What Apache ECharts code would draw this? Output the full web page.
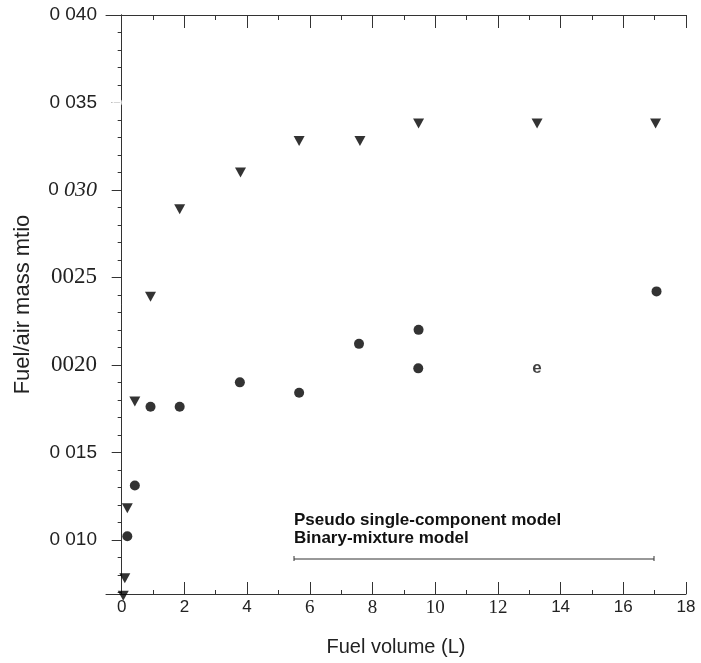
<!DOCTYPE html>
<html><head><meta charset="utf-8">
<script src="https://cdn.jsdelivr.net/npm/echarts@6/dist/echarts.min.js"></script>
<style>html,body{margin:0;padding:0;background:#fff}#c{width:701px;height:663px}</style>
</head><body><div id="c"></div>
<script>
// ---- data ----
const seriesNames = ['Pseudo single-component model', 'Binary-mixture model'];
const volTri   = [0.05, 0.10, 0.18, 0.42, 0.92, 1.85, 3.79, 5.66, 7.60, 9.47, 13.25, 17.03];
const ratioTri = [0.0068, 0.0078, 0.0118, 0.0179, 0.0239, 0.0289, 0.0310, 0.0328, 0.0328, 0.0338, 0.0338, 0.0338];
const volCirc   = [0.18, 0.42, 0.92, 1.85, 3.77, 5.66, 7.57, 9.47, 9.46, 17.06];
const ratioCirc = [0.0102, 0.0131, 0.0176, 0.0176, 0.0190, 0.0184, 0.0212, 0.0220, 0.0198, 0.0242];
const volE = [13.25];
const ratioE = [0.0198];
const labelE = ['e'];
const volFaint   = [-0.15, 0.20, 0.50, 0.87, 1.85, 13.25, 17.03];
const ratioFaint = [0.035, 0.035, 0.035, 0.035, 0.035, 0.035, 0.035];
const xTickValues = [0, 2, 4, 6, 8, 10, 12, 14, 16, 18];
const xTickLabels = ['0', '2', '4', '6', '8', '10', '12', '14', '16', '18'];
const xMinorValues = [1, 3, 5, 7, 9, 11, 13, 15, 17];
const yTickValues = [0.010, 0.015, 0.020, 0.025, 0.030, 0.035, 0.040];
const yTickLabels = ['0 010', '0 015', '0020', '0025', '0 030', '0 035', '0 040'];
const xTitle = 'Fuel volume (L)';
const yTitle = 'Fuel/air mass mtio';

// ---- build ----
const X_MIN = -0.5, X_MAX = 18, Y_MIN = 0.0069, Y_MAX = 0.040;
const yMinorValues = [];
for (let k = 7; k <= 40; k++) if (k % 5 !== 0) yMinorValues.push(k / 1000);

const serifX = {'6':1,'8':1,'10':1,'12':1};
function idxOf(arr, v){ for (let i=0;i<arr.length;i++) if (Math.abs(arr[i]-v)<1e-9) return i; return -1; }
function zip(a,b){ return a.map((v,i)=>[v,b[i]]); }

const axisColor = '#333';
const baseX = {type:'value', min:X_MIN, max:X_MAX, splitLine:{show:false}, gridIndex:0};
const baseY = {type:'value', min:Y_MIN, max:Y_MAX, splitLine:{show:false}, gridIndex:0};

const option = {
  animation:false,
  backgroundColor:'#fff',
  grid:{left:106, right:15, top:15, bottom:69, containLabel:false},
  legend:{
    show:true, orient:'vertical', left:284, top:507, icon:'none', itemWidth:0, itemHeight:10, itemGap:1,
    data: seriesNames,
    textStyle:{fontFamily:'Liberation Sans, Arial', fontWeight:'bold', fontSize:17, color:'#111'}
  },
  xAxis:[
    Object.assign({}, baseX, {position:'bottom',
      name:xTitle, nameLocation:'middle', nameGap:43,
      nameTextStyle:{fontFamily:'Liberation Sans, Arial', fontSize:20, color:'#222'},
      axisLine:{show:true, lineStyle:{color:axisColor, width:1}},
      axisTick:{show:true, inside:true, length:12, customValues:xTickValues, lineStyle:{color:axisColor}},
      axisLabel:{show:true, customValues:xTickValues, margin:5,
        formatter:function(v){ const i=idxOf(xTickValues,v); const t=i>=0?xTickLabels[i]:''; return serifX[t]?'{r|'+t+'}':'{s|'+t+'}'; },
        rich:{s:{fontFamily:'Liberation Sans, Arial', fontSize:17, color:'#222'}, r:{fontFamily:'Liberation Serif, Times New Roman', fontSize:19, color:'#222'}}
      }}),
    Object.assign({}, baseX, {position:'bottom',
      axisLine:{show:false}, axisLabel:{show:false},
      axisTick:{show:true, inside:true, length:4, customValues:xMinorValues, lineStyle:{color:axisColor}}}),
    Object.assign({}, baseX, {position:'top',
      axisLine:{show:true, lineStyle:{color:axisColor, width:1}}, axisLabel:{show:false},
      axisTick:{show:true, inside:true, length:13, customValues:xTickValues, lineStyle:{color:axisColor}}}),
    Object.assign({}, baseX, {position:'top',
      axisLine:{show:false}, axisLabel:{show:false},
      axisTick:{show:true, inside:true, length:5, customValues:xMinorValues, lineStyle:{color:axisColor}}})
  ],
  yAxis:[
    Object.assign({}, baseY, {position:'left',
      name:yTitle, nameLocation:'middle', nameGap:72, nameRotate:90,
      nameTextStyle:{fontFamily:'Liberation Sans, Arial', fontSize:22, color:'#222'},
      axisLine:{show:true, lineStyle:{color:axisColor, width:1}},
      axisTick:{show:false},
      axisLabel:{show:true, customValues:yTickValues, margin:9,
        formatter:function(v){ const i=idxOf(yTickValues,v); const t=i>=0?yTickLabels[i]:'';
          if (t==='0 030') return '{s|0 }{i|030}';
          if (t.indexOf(' ')<0) return '{r|'+t+'}';
          return '{s|'+t+'}'; },
        rich:{s:{fontFamily:'Liberation Sans, Arial', fontSize:19, color:'#222'},
              r:{fontFamily:'Liberation Serif, Times New Roman', fontSize:23, color:'#222'},
              i:{fontFamily:'Liberation Serif, Times New Roman', fontStyle:'italic', fontSize:22, color:'#222'}}
      }}),
    Object.assign({}, baseY, {position:'right',
      axisLine:{show:true, lineStyle:{color:axisColor, width:1}}, axisLabel:{show:false},
      axisTick:{show:true, inside:true, length:10, customValues:yTickValues, lineStyle:{color:axisColor}}}),
    Object.assign({}, baseY, {position:'right',
      axisLine:{show:false}, axisLabel:{show:false},
      axisTick:{show:true, inside:true, length:4, customValues:yMinorValues, lineStyle:{color:axisColor}}})
  ],
  series:[
    {name:seriesNames[0], type:'scatter', xAxisIndex:0, yAxisIndex:0, clip:false,
     symbol:'triangle', symbolRotate:180, symbolSize:[11,10],
     itemStyle:{color:'#000'}, data:zip(volTri, ratioTri)},
    {name:seriesNames[1], type:'scatter', xAxisIndex:0, yAxisIndex:0, clip:false,
     symbol:'circle', symbolSize:10,
     itemStyle:{color:'#000'}, data:zip(volCirc, ratioCirc)},
    {name:'e', type:'scatter', xAxisIndex:0, yAxisIndex:0, symbolSize:1, itemStyle:{color:'rgba(0,0,0,0)'},
     label:{show:true, position:'inside', formatter:function(p){return labelE[p.dataIndex];},
       fontFamily:'Liberation Sans, Arial', fontWeight:'bold', fontSize:17, color:'#111'},
     data:zip(volE, ratioE)},
    {name:'faint', type:'scatter', xAxisIndex:0, yAxisIndex:0, symbol:'emptyCircle', symbolSize:8,
     itemStyle:{color:'#fff', borderColor:'#bdbdbd', borderWidth:1}, data:zip(volFaint, ratioFaint)}
  ],
  graphic:[
    {type:'line', shape:{x1:294, y1:559, x2:654, y2:559}, style:{stroke:'#333', lineWidth:1}},
    {type:'line', shape:{x1:294, y1:556, x2:294, y2:561}, style:{stroke:'#333', lineWidth:1}},
    {type:'line', shape:{x1:654, y1:556, x2:654, y2:561}, style:{stroke:'#333', lineWidth:1}}
  ]
};
const chart = echarts.init(document.getElementById('c'), null, {renderer:'canvas'});
chart.setOption(option);
</script>
</body></html>
